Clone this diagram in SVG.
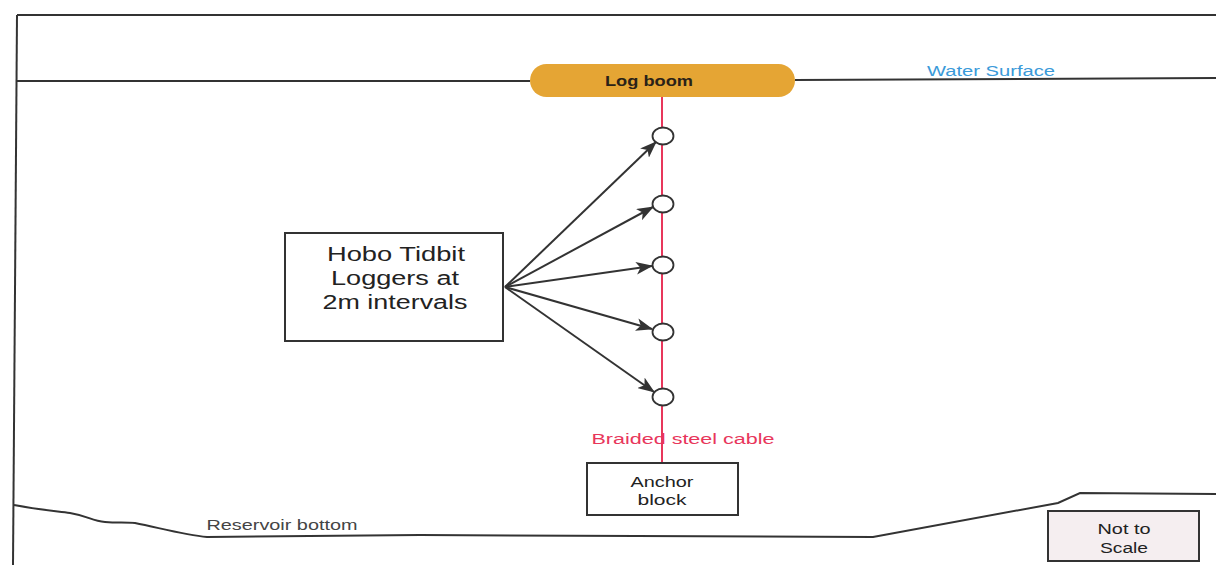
<svg xmlns="http://www.w3.org/2000/svg" width="1216" height="565" viewBox="0 0 1216 565">
<style>
.frame{fill:none;stroke:#333;stroke-width:2}
.box{fill:#fff;stroke:#333;stroke-width:2}
.t{font-family:"Liberation Sans",Arial,sans-serif;fill:#222;text-anchor:middle}
.arrow{stroke:#333;stroke-width:2;fill:none;marker-end:url(#ah)}
.logger{fill:#fff;stroke:#333;stroke-width:1.8}
</style>
<defs>
<marker id="ah" viewBox="0 0 16 12" refX="15" refY="6" markerWidth="17" markerHeight="13" markerUnits="userSpaceOnUse" orient="auto">
<path d="M0,0 L16,6 L0,12 L4,6 Z" fill="#333"/>
</marker>
</defs>
<rect width="1216" height="565" fill="#fff"/>
<g id="frame">
<path class="frame" d="M17,15 L1216,15"/>
<path class="frame" d="M17,15 L13,565"/>
<path class="frame" d="M17,81 L530,81 M795,80 L1216,78"/>
<path class="frame" d="M14,505 C40,510 55,511 70,513 C88,516 92,521 105,522 C118,523 125,522 135,523 C160,528 185,535 207,537 L420,535 L873,537 L1058,503 L1080,493 L1216,494"/>
<text x="282" y="530" class="t" style="font-size:14px;fill:#444" textLength="151" lengthAdjust="spacingAndGlyphs">Reservoir bottom</text>
<text x="991" y="76" class="t" style="font-size:14px;fill:#3a9ad9" textLength="128" lengthAdjust="spacingAndGlyphs">Water Surface</text>
</g>
<g id="cable">
<line x1="662" y1="96" x2="662" y2="463" stroke="#e8365b" stroke-width="2"/>
<text x="683" y="444" class="t" style="font-size:14px;fill:#e8365b" textLength="183" lengthAdjust="spacingAndGlyphs">Braided steel cable</text>
</g>
<g id="log-boom">
<rect x="530" y="64" width="265" height="33" rx="16.5" fill="#e5a534"/>
<text x="649" y="86" class="t" style="font-size:15px;font-weight:bold;fill:#2a2218" textLength="88" lengthAdjust="spacingAndGlyphs">Log boom</text>
</g>
<g id="loggers">
<ellipse class="logger" cx="663" cy="136" rx="10.5" ry="8.5"/>
<ellipse class="logger" cx="663" cy="204" rx="10.5" ry="8.5"/>
<ellipse class="logger" cx="663" cy="265" rx="10.5" ry="8.5"/>
<ellipse class="logger" cx="663" cy="332" rx="10.5" ry="8.5"/>
<ellipse class="logger" cx="663" cy="397" rx="10.5" ry="8.5"/>
</g>
<g id="hobo-box">
<rect class="box" x="285" y="233" width="218" height="108"/>
<text class="t" style="font-size:20px" x="396" y="261" textLength="138" lengthAdjust="spacingAndGlyphs">Hobo Tidbit</text>
<text class="t" style="font-size:20px" x="395" y="285" textLength="128" lengthAdjust="spacingAndGlyphs">Loggers at</text>
<text class="t" style="font-size:20px" x="395" y="309" textLength="145" lengthAdjust="spacingAndGlyphs">2m intervals</text>
</g>
<g id="connectors">
<line class="arrow" x1="505" y1="287" x2="656" y2="142"/>
<line class="arrow" x1="505" y1="287" x2="653" y2="207"/>
<line class="arrow" x1="505" y1="287" x2="652" y2="266"/>
<line class="arrow" x1="505" y1="287" x2="652" y2="329"/>
<line class="arrow" x1="505" y1="287" x2="654" y2="392"/>
</g>
<g id="anchor-block">
<rect class="box" x="587" y="463" width="151" height="52"/>
<text class="t" style="font-size:15px" x="662" y="487" textLength="63" lengthAdjust="spacingAndGlyphs">Anchor</text>
<text class="t" style="font-size:15px" x="662" y="505" textLength="49" lengthAdjust="spacingAndGlyphs">block</text>
</g>
<g id="not-to-scale">
<rect x="1048" y="511" width="151" height="50" fill="#f5eef0" stroke="#333" stroke-width="2"/>
<text class="t" style="font-size:15.5px" x="1124" y="534" textLength="53" lengthAdjust="spacingAndGlyphs">Not to</text>
<text class="t" style="font-size:15.5px" x="1124" y="553" textLength="48" lengthAdjust="spacingAndGlyphs">Scale</text>
</g>
</svg>
